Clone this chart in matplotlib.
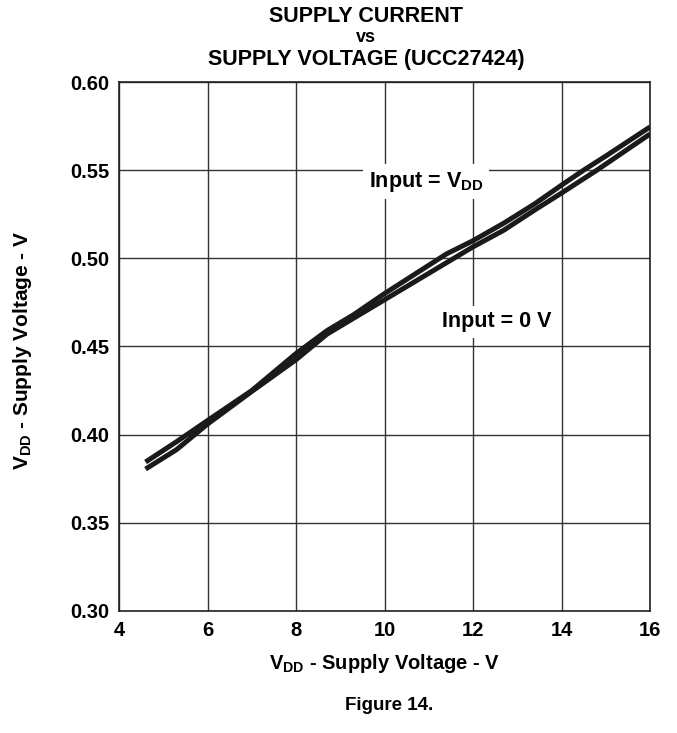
import matplotlib
matplotlib.use("Agg")
import matplotlib.pyplot as plt

plt.rcParams['font.family'] = ['Liberation Sans', 'DejaVu Sans']
plt.rcParams['font.weight'] = 'bold'
plt.rcParams['mathtext.fontset'] = 'custom'
plt.rcParams['mathtext.rm'] = 'Liberation Sans:bold'
plt.rcParams['mathtext.bf'] = 'Liberation Sans:bold'
plt.rcParams['mathtext.it'] = 'Liberation Sans:bold'

# Curve data.
vdd_high_x = [4.6, 5.3, 6.0, 7.0, 8.0, 8.7, 9.3, 10.0, 11.4, 12.0, 12.7, 13.4, 14.0, 14.5, 15.0, 16.0]
vdd_high_y = [0.3845, 0.396, 0.408, 0.425, 0.446, 0.459, 0.468, 0.480, 0.5025, 0.510, 0.520, 0.531, 0.5415, 0.550, 0.558, 0.5745]
zero_in_x = [4.6, 5.3, 6.0, 7.0, 8.0, 8.7, 9.3, 10.0, 11.4, 12.0, 12.7, 13.4, 14.0, 14.8, 16.0]
zero_in_y = [0.3805, 0.3915, 0.406, 0.4245, 0.4425, 0.457, 0.466, 0.4765, 0.4975, 0.5065, 0.516, 0.5275, 0.537, 0.550, 0.5705]

x_ticks = [4, 6, 8, 10, 12, 14, 16]
y_ticks = [0.30, 0.35, 0.40, 0.45, 0.50, 0.55, 0.60]

W, H = 677, 733
fig = plt.figure(figsize=(W / 100, H / 100), dpi=100)
ax = fig.add_axes([119 / W, 1 - 611 / H, 531 / W, 529 / H])

ax.plot(vdd_high_x, vdd_high_y, color='#1a1a1a', lw=3.6, solid_capstyle='butt', zorder=3)
ax.plot(zero_in_x, zero_in_y, color='#1a1a1a', lw=3.6, solid_capstyle='butt', zorder=3)

ax.set_xlim(4, 16)
ax.set_ylim(0.30, 0.60)
ax.set_xticks(x_ticks)
ax.set_yticks(y_ticks)
ax.set_xticklabels([str(t) for t in x_ticks])
ax.set_yticklabels([f"{t:.2f}" for t in y_ticks])
ax.tick_params(length=0, labelsize=14.5, pad=7)
ax.grid(True, color='#333333', lw=1.0)
ax.set_axisbelow(True)
for s in ax.spines.values():
    s.set_color('#222222')
    s.set_linewidth(1.2)

ax.text(9.65, 0.5435, r'Input = V$_{\mathrm{DD}}$', fontsize=15.5, fontweight='bold',
        ha='left', va='center', zorder=2,
        bbox=dict(facecolor='white', edgecolor='none', pad=4))
ax.text(11.3, 0.4640, 'Input = 0 V', fontsize=15.5, fontweight='bold',
        ha='left', va='center', zorder=2,
        bbox=dict(facecolor='white', edgecolor='none', pad=4))

ax.set_xlabel(r'V$_{\mathrm{DD}}$ - Supply Voltage - V', fontsize=14.5, fontweight='bold', labelpad=9)
fig.text(23 / W, 1 - 350 / H, r'V$_{\mathrm{DD}}$ - Supply Voltage - V', rotation=90,
         ha='center', va='center', fontsize=15, fontweight='bold')

fig.text(366 / W, 1 - 16 / H, 'SUPPLY CURRENT', ha='center', va='center', fontsize=15.5, fontweight='bold')
fig.text(366 / W, 1 - 38 / H, 'vs', ha='center', va='center', fontsize=13, fontweight='bold')
fig.text(366 / W, 1 - 59 / H, 'SUPPLY VOLTAGE (UCC27424)', ha='center', va='center', fontsize=15.5, fontweight='bold')
fig.text(389 / W, 1 - 706 / H, 'Figure 14.', ha='center', va='center', fontsize=13.5, fontweight='bold')

fig.savefig('out.png', dpi=100)
